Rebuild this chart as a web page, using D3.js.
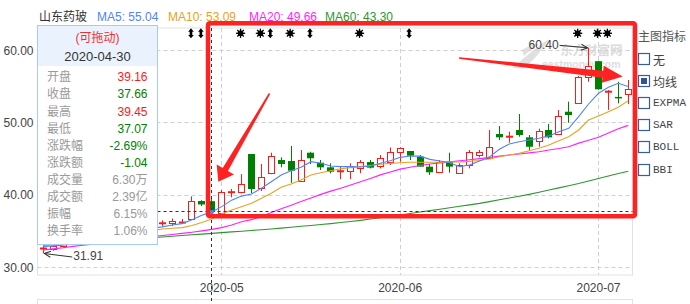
<!DOCTYPE html>
<html>
<head>
<meta charset="utf-8">
<script src="https://cdn.jsdelivr.net/npm/d3@7"></script>
<style>
  body { margin: 0; background: #fff; }
  svg { display: block; font-family: "Liberation Sans", Arial, "Noto Sans CJK SC", sans-serif; }
</style>
</head>
<body>
<svg id="chart" width="690" height="304"></svg>
<script>
// --- data ---
const dates = ["2020-04-07","2020-04-08","2020-04-09","2020-04-10","2020-04-13","2020-04-14","2020-04-15","2020-04-16","2020-04-17","2020-04-20",
  "2020-04-21","2020-04-22","2020-04-23","2020-04-24","2020-04-27","2020-04-28","2020-04-29","2020-04-30","2020-05-06","2020-05-07",
  "2020-05-08","2020-05-11","2020-05-12","2020-05-13","2020-05-14","2020-05-15","2020-05-18","2020-05-19","2020-05-20","2020-05-21",
  "2020-05-22","2020-05-25","2020-05-26","2020-05-27","2020-05-28","2020-05-29","2020-06-01","2020-06-02","2020-06-03","2020-06-04",
  "2020-06-05","2020-06-08","2020-06-09","2020-06-10","2020-06-11","2020-06-12","2020-06-15","2020-06-16","2020-06-17","2020-06-18",
  "2020-06-19","2020-06-22","2020-06-23","2020-06-24","2020-06-29","2020-06-30","2020-07-01","2020-07-02","2020-07-03","2020-07-06"];
const open  = [32.58,32.5,33.0,33.3,33.6,34.2,34.0,34.5,34.9,35.3, 35.1,35.7,36.08,36.1,36.18,36.73,39.18,39.16,37.48,40.38,
  40.39,45.69,40.94,43.02,44.86,44.72,42.0,45.87,44.49,43.85, 43.28,43.34,43.71,44.58,44.08,44.63,46.0,46.11,45.32,43.94,
  43.2,44.63,43.02,44.17,45.51,45.1,48.46,48.07,49.02,48.0, 47.53,49.02,48.46,51.55,52.8,56.31,58.55,54.3,53.6,53.96];
const close = [32.6,32.95,33.3,33.6,34.2,34.0,34.5,34.9,35.3,35.1, 35.7,36.0,36.1,36.45,36.2,39.22,38.70,37.66,40.39,40.4,
  41.54,40.84,42.47,45.46,44.31,43.38,44.86,45.1,43.85,43.24, 43.3,44.03,44.58,43.8,45.1,46.0,46.48,45.46,43.94,43.16,
  44.54,43.94,44.17,45.92,45.97,46.62,48.0,48.09,48.32,46.7, 48.92,48.0,51.0,51.09,56.31,57.92,54.65,54.32,53.45,54.65];
const high  = [33.1,33.3,33.6,33.9,34.5,34.6,34.8,35.2,35.6,35.7, 36.0,36.3,36.5,36.75,36.7,39.82,39.3,39.45,40.7,40.85,
  42.9,45.7,44.3,45.87,45.23,46.8,46.25,46.0,44.86,44.4, 43.94,44.4,44.86,44.86,45.55,46.6,46.62,46.11,45.55,44.3,
  44.86,45.87,44.4,46.25,46.25,49.0,49.57,48.78,51.23,48.32, 49.2,49.85,51.79,52.94,56.5,60.40,58.6,54.55,55.7,55.94];
const low   = [31.91,32.3,32.95,33.1,33.4,33.8,33.9,34.3,34.7,34.9, 35.0,35.5,35.7,35.7,36.0,36.65,38.5,37.07,37.3,39.7,
  40.25,40.25,40.57,42.9,43.85,41.7,42.0,44.3,43.48,43.0, 42.2,42.2,43.02,43.7,43.7,44.17,44.63,44.86,43.94,42.8,
  43.1,43.1,43.02,43.7,45.23,45.1,47.63,47.26,48.09,46.25, 46.7,47.86,48.32,50.03,52.7,55.7,54.6,51.8,52.7,52.6];

const ma5  = [32.9,32.95,33.1,33.3,33.55,33.8,34.05,34.3,34.6,34.9, 35.15,35.4,35.6,35.85,36.05,36.6,37.2,37.65,38.4,39.3,
  39.86,40.15,40.94,41.86,42.78,43.38,43.85,44.63,44.4,44.03, 43.94,43.94,43.9,44.03,44.4,44.77,45.23,45.41,45.4,44.95,
  44.72,44.49,43.94,44.17,44.72,45.3,46.34,47.08,47.4,47.63, 47.87,48.2,48.78,49.25,50.86,52.62,54.1,54.93,55.49,55.04];
const ma10 = [33.0,33.05,33.1,33.2,33.35,33.5,33.7,33.9,34.2,34.5, 34.8,35.05,35.3,35.4,35.5,35.8,36.2,36.7,37.4,37.94,
  38.4,38.86,39.56,40.25,41.08,41.54,42.1,42.78,43.1,43.38, 43.65,43.8,43.94,44.1,44.27,44.4,44.49,44.54,44.54,44.56,
  44.56,44.58,44.6,44.67,44.8,45.0,45.32,45.55,45.78,46.15, 46.48,46.94,47.53,48.09,49.02,50.4,50.96,51.55,52.16,53.09];
const ma20 = [32.4,32.55,32.7,32.9,33.05,33.2,33.4,33.55,33.75,33.95, 34.1,34.25,34.4,34.55,34.7,34.85,35.05,35.25,35.5,35.85,
  36.3,36.6,37.05,37.6,38.1,38.6,39.1,39.6,40.1,40.55, 40.95,41.4,41.85,42.3,42.8,43.2,43.6,43.85,44.1,44.3,
  44.45,44.6,44.75,44.9,45.05,45.2,45.4,45.55,45.7,45.85, 46.0,46.25,46.45,46.7,47.2,47.6,48.0,48.6,49.2,49.66];
const ma60 = [33.2,33.28,33.36,33.44,33.52,33.6,33.68,33.76,33.84,33.92, 34.0,34.1,34.2,34.3,34.4,34.5,34.6,34.7,34.8,34.9,
  35.0,35.1,35.2,35.3,35.42,35.55,35.68,35.8,35.93,36.05, 36.2,36.35,36.5,36.68,36.86,37.05,37.25,37.45,37.65,37.85,
  38.05,38.25,38.45,38.65,38.85,39.1,39.35,39.6,39.85,40.1, 40.4,40.7,41.0,41.3,41.6,41.95,42.3,42.65,42.98,43.3];

const priceTicks = [30, 40, 50, 60];
const monthTicks = ["2020-05-06", "2020-06-01", "2020-07-01"];
const monthLabels = ["2020-05", "2020-06", "2020-07"];

const flagUpDown = ["2020-04-28","2020-04-29","2020-05-13","2020-05-19","2020-06-02"];
const flagStar = ["2020-05-08","2020-05-12","2020-05-15","2020-05-26","2020-06-29","2020-07-01","2020-07-02"];

const stockName = "山东药玻";
const tipDate = "2020-04-30";
const tipVolume = 6.30;   // 万
const tipAmount = 2.39;   // 亿
const tipTurnover = 1.06; // %
const indicatorNames = ["无", "均线", "EXPMA", "SAR", "BOLL", "BBI"];
const indicatorChecked = "均线";

// --- colours ---
const RED = "#ff1a1a", GREEN = "#008000";
const C5 = "#4f84f5", C10 = "#e8a224", C20 = "#ff1fff", C60 = "#2f962f";

const svg = d3.select("#chart");
const x = d3.scaleBand().domain(dates).range([38.3, 633.2]).paddingInner(0.28).paddingOuter(0.14);
const xc = d => x(d) + x.bandwidth() / 2;
const y = d3.scaleLinear().domain([30, 60]).range([267.3, 50.7]);
const px = v => Math.floor(v) + 0.5;

const plot = { left: 37.5, right: 632.5, top: 28, bottom: 275 };

// frames
svg.append("rect").attr("x", plot.left).attr("y", plot.top)
  .attr("width", plot.right - plot.left).attr("height", plot.bottom - plot.top)
  .attr("fill", "none").attr("stroke", "#e2e2e2");
svg.append("rect").attr("x", plot.left).attr("y", 299.5)
  .attr("width", plot.right - plot.left).attr("height", 30)
  .attr("fill", "none").attr("stroke", "#e2e2e2");

// grid
svg.append("g").selectAll("line").data(priceTicks).join("line")
  .attr("x1", plot.left).attr("x2", plot.right)
  .attr("y1", d => px(y(d))).attr("y2", d => px(y(d)))
  .attr("stroke", "#cfcfcf").attr("stroke-dasharray", "4,3");
svg.append("g").selectAll("line").data(monthTicks).join("line")
  .attr("x1", d => px(xc(d))).attr("x2", d => px(xc(d)))
  .attr("y1", plot.top).attr("y2", plot.bottom)
  .attr("stroke", "#cfcfcf").attr("stroke-dasharray", "4,3");

// watermark
const wm = svg.append("g").attr("opacity", 0.8);
wm.append("path").attr("d", "M512,68 C522,60 532,50 549,39 C541,52 533,61 524,68 Z").attr("fill", "#d9d9d9");
wm.append("path").attr("d", "M522,50 C528,46 534,44 540,44 C533,48 528,52 524,56 Z").attr("fill", "#d9d9d9");
wm.append("text").attr("x", 560).attr("y", 49).attr("dominant-baseline", "central")
  .attr("font-family", "Noto Sans CJK SC").attr("font-weight", "bold").attr("font-size", 12.5)
  .attr("fill", "#d3d3d3").text("东方财富网");
wm.append("text").attr("x", 542).attr("y", 63.5).attr("dominant-baseline", "central")
  .attr("font-weight", "bold").attr("font-size", 10.5).attr("fill", "#d6d6d6").text("eastmoney.com");

// candles
const candles = dates.map((d, i) => ({ d, o: open[i], c: close[i], h: high[i], l: low[i] }));
const cg = svg.append("g");
candles.forEach(k => {
  const cx = px(xc(k.d));
  const up = k.c >= k.o;
  const col = up ? RED : GREEN;
  cg.append("line").attr("x1", cx).attr("x2", cx).attr("y1", y(k.h)).attr("y2", y(k.l))
    .attr("stroke", col);
  if (Math.abs(k.c - k.o) < 0.05) {
    cg.append("line").attr("x1", cx - 3.5).attr("x2", cx + 3.5)
      .attr("y1", y(k.c)).attr("y2", y(k.c)).attr("stroke", col).attr("stroke-width", 2);
  } else if (up) {
    const top = Math.round(y(k.c)) + 0.5, bot = Math.round(y(k.o)) + 0.5;
    cg.append("rect").attr("x", cx - 3).attr("y", top).attr("width", 6)
      .attr("height", Math.max(bot - top, 1)).attr("fill", "#fff").attr("stroke", col);
  } else {
    const top = y(k.o), bot = y(k.c);
    cg.append("rect").attr("x", cx - 3.5).attr("y", top).attr("width", 7)
      .attr("height", Math.max(bot - top, 1.5)).attr("fill", col);
  }
});

// moving averages
const maLine = d3.line().x((v, i) => xc(dates[i])).y(v => y(v));
[[ma60, C60], [ma20, C20], [ma10, C10], [ma5, C5]].forEach(([vals, col]) => {
  svg.append("path").attr("d", maLine(vals)).attr("fill", "none")
    .attr("stroke", col).attr("stroke-width", 1.1);
});

// axes
const yAxis = svg.append("g").attr("transform", "translate(35.5,0)")
  .call(d3.axisLeft(y).tickValues(priceTicks).tickFormat(d3.format(".2f")).tickSize(0).tickPadding(2));
yAxis.select(".domain").remove();
yAxis.selectAll("text").attr("font-size", 12).attr("fill", "#444")
  .attr("font-family", "Liberation Sans, Arial, sans-serif");

const xAxis = svg.append("g").attr("transform", `translate(0,${plot.bottom})`)
  .call(d3.axisBottom(x).tickValues(monthTicks).tickFormat((d, i) => monthLabels[i]).tickSize(0).tickPadding(8));
xAxis.select(".domain").remove();
xAxis.selectAll("text").attr("font-size", 12).attr("fill", "#444")
  .attr("font-family", "Liberation Sans, Arial, sans-serif");

// event flags on top
const flagY = 33.3;
flagStar.forEach(d => {
  const g = svg.append("g").attr("transform", `translate(${xc(d) - 1},${flagY})`);
  for (let a = 0; a < 8; a++) {
    const t = a * Math.PI / 4;
    g.append("line").attr("x1", 0).attr("y1", 0)
      .attr("x2", Math.cos(t) * 4.6).attr("y2", Math.sin(t) * 4.6)
      .attr("stroke", "#000").attr("stroke-width", 1.3);
  }
  g.append("circle").attr("r", 2.8).attr("fill", "#000");
});
flagUpDown.forEach(d => {
  svg.append("path").attr("transform", `translate(${xc(d) - 1},${flagY})`)
    .attr("d", "M0,-5 L2.8,-1.6 L1.3,-1.6 L1.3,1.6 L2.8,1.6 L0,5 L-2.8,1.6 L-1.3,1.6 L-1.3,-1.6 L-2.8,-1.6 Z")
    .attr("fill", "#000");
});

// high / low annotations
svg.append("defs").append("marker").attr("id", "ah").attr("viewBox", "0 0 8 8")
  .attr("refX", 7.5).attr("refY", 4).attr("markerWidth", 8).attr("markerHeight", 8)
  .attr("markerUnits", "userSpaceOnUse").attr("orient", "auto")
  .append("path").attr("d", "M1,1 L7.5,4 L1,7").attr("fill", "none").attr("stroke", "#333").attr("stroke-width", 1);

const iHigh = high.indexOf(d3.max(high)), iLow = low.indexOf(d3.min(low));
const hx = xc(dates[iHigh]), hy = y(high[iHigh]);
svg.append("line").attr("x1", hx - 29).attr("y1", hy - 2.5).attr("x2", hx - 1).attr("y2", hy)
  .attr("stroke", "#333").attr("marker-end", "url(#ah)");
svg.append("text").attr("x", hx - 30).attr("y", hy - 3).attr("text-anchor", "end")
  .attr("dominant-baseline", "central").attr("font-size", 12).attr("fill", "#444")
  .text(high[iHigh].toFixed(2));
const lx = xc(dates[iLow]), ly = y(low[iLow]);
svg.append("line").attr("x1", lx + 29).attr("y1", ly + 3.5).attr("x2", lx + 1).attr("y2", ly)
  .attr("stroke", "#333").attr("marker-end", "url(#ah)");
svg.append("text").attr("x", lx + 30).attr("y", ly + 2.5)
  .attr("dominant-baseline", "central").attr("font-size", 12).attr("fill", "#444")
  .text(low[iLow].toFixed(2));

// crosshair on the selected day
const iTip = dates.indexOf(tipDate);
const chx = px(xc(tipDate)), chy = px(y(close[iTip]));
svg.append("line").attr("x1", chx).attr("x2", chx).attr("y1", plot.top).attr("y2", 304)
  .attr("stroke", "#333").attr("stroke-dasharray", "3,3");
svg.append("line").attr("x1", plot.left).attr("x2", plot.right).attr("y1", chy).attr("y2", chy)
  .attr("stroke", "#333").attr("stroke-dasharray", "3,3");
svg.append("circle").attr("cx", xc(tipDate)).attr("cy", y(ma5[iTip])).attr("r", 2.2).attr("fill", C5);

// tooltip
const tip = svg.append("g");
tip.append("rect").attr("x", 37.5).attr("y", 25.5).attr("width", 120).attr("height", 219)
  .attr("fill", "#fff").attr("stroke", "#a7cbf1");
tip.append("rect").attr("x", 38).attr("y", 26).attr("width", 119).attr("height", 40).attr("fill", "#eaf3fd");
tip.append("text").attr("x", 97.5).attr("y", 38).attr("text-anchor", "middle").attr("dominant-baseline", "central")
  .attr("font-size", 12).attr("fill", "#f03030").text("(可拖动)");
tip.append("text").attr("x", 97.5).attr("y", 56).attr("text-anchor", "middle").attr("dominant-baseline", "central")
  .attr("font-size", 13).attr("fill", "#333").text(tipDate);

const prev = close[iTip - 1];
const cmp = v => v > prev ? RED : (v < prev ? GREEN : "#999");
const chg = close[iTip] - prev;
const rows = [
  ["开盘", open[iTip].toFixed(2), cmp(open[iTip])],
  ["收盘", close[iTip].toFixed(2), cmp(close[iTip])],
  ["最高", high[iTip].toFixed(2), cmp(high[iTip])],
  ["最低", low[iTip].toFixed(2), cmp(low[iTip])],
  ["涨跌幅", (chg / prev * 100).toFixed(2) + "%", cmp(close[iTip])],
  ["涨跌额", chg.toFixed(2), cmp(close[iTip])],
  ["成交量", tipVolume.toFixed(2) + "万", "#999"],
  ["成交额", tipAmount.toFixed(2) + "亿", "#999"],
  ["振幅", ((high[iTip] - low[iTip]) / prev * 100).toFixed(2) + "%", "#999"],
  ["换手率", tipTurnover.toFixed(2) + "%", "#999"]
];
rows.forEach((r, i) => {
  const ry = 77.3 + i * 17.1;
  tip.append("text").attr("x", 47).attr("y", ry).attr("dominant-baseline", "central")
    .attr("font-size", 12).attr("fill", "#9a9a9a").text(r[0]);
  tip.append("text").attr("x", 147.5).attr("y", ry).attr("text-anchor", "end").attr("dominant-baseline", "central")
    .attr("font-size", 12).attr("fill", r[2]).text(r[1]);
});

// header
const head = [
  [39, stockName, "#333"],
  [97, "MA5: " + ma5[ma5.length - 1].toFixed(2), C5],
  [168, "MA10: " + ma10[ma10.length - 1].toFixed(2), C10],
  [249, "MA20: " + ma20[ma20.length - 1].toFixed(2), C20],
  [325, "MA60: " + ma60[ma60.length - 1].toFixed(2), C60]
];
head.forEach(h => {
  svg.append("text").attr("x", h[0]).attr("y", 16.5).attr("dominant-baseline", "central")
    .attr("font-size", 12).attr("fill", h[2]).text(h[1]);
});

// indicator panel
svg.append("text").attr("x", 638).attr("y", 35).attr("dominant-baseline", "central")
  .attr("font-family", "Noto Sans CJK SC").attr("font-size", 12).attr("fill", "#555").text("主图指标");
indicatorNames.forEach((n, i) => {
  const cy = 58.5 + i * 22.1;
  svg.append("rect").attr("x", 638.5).attr("y", Math.round(cy - 5.5) + 0.5).attr("width", 11).attr("height", 11)
    .attr("fill", "#fff").attr("stroke", "#3a5d9c").attr("stroke-width", 1.2);
  if (n === indicatorChecked) {
    svg.append("rect").attr("x", 641).attr("y", Math.round(cy - 5.5) + 3).attr("width", 6).attr("height", 6)
      .attr("fill", "#2f5596");
  }
  const cjk = /[\u4e00-\u9fff]/.test(n);
  svg.append("text").attr("x", 653).attr("y", cy + 0.5).attr("dominant-baseline", "central")
    .attr("font-family", cjk ? "Noto Sans CJK SC" : "Liberation Mono, monospace")
    .attr("font-size", cjk ? 12 : 11).attr("fill", "#444").text(n);
});

// hand-drawn highlight: red box and arrows
const ink = "#ff2222";
svg.append("rect").attr("x", 208).attr("y", 23.3).attr("width", 427).attr("height", 193)
  .attr("rx", 2).attr("fill", "none").attr("stroke", ink).attr("stroke-width", 4.5);

function arrow(tail, tip, w0, w1, headLen, headW) {
  const dx = tip[0] - tail[0], dy = tip[1] - tail[1], L = Math.hypot(dx, dy);
  const ux = dx / L, uy = dy / L, nx = -uy, ny = ux;
  const bx = tip[0] - ux * headLen, by = tip[1] - uy * headLen;
  const pts = [
    [tail[0] + nx * w0 / 2, tail[1] + ny * w0 / 2],
    [bx + nx * w1 / 2, by + ny * w1 / 2],
    [bx + nx * headW / 2, by + ny * headW / 2],
    tip,
    [bx - nx * headW / 2, by - ny * headW / 2],
    [bx - nx * w1 / 2, by - ny * w1 / 2],
    [tail[0] - nx * w0 / 2, tail[1] - ny * w0 / 2]
  ];
  svg.append("polygon").attr("points", pts.map(p => p.join(",")).join(" ")).attr("fill", ink);
}
arrow([269.5, 93.5], [218.3, 181.7], 1.5, 6, 14, 20);
arrow([459, 58], [622.7, 76.5], 1.5, 7, 20, 17);
</script>
</body>
</html>
